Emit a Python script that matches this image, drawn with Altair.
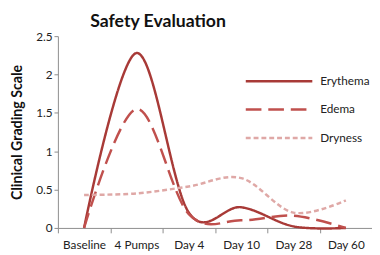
import altair as alt
import pandas as pd

categories = ["Baseline", "4 Pumps", "Day 4", "Day 10", "Day 28", "Day 60"]
erythema = [0.0, 2.28, 0.20, 0.27, 0.02, 0.0]
edema = [0.0, 1.55, 0.18, 0.10, 0.16, 0.0]
dryness = [0.43, 0.45, 0.54, 0.65, 0.20, 0.36]
series_names = ["Erythema", "Edema", "Dryness"]
series_colors = ["#A83A37", "#C0504D", "#DFA8A6"]
series_dashes = [[1, 0], [16, 7], [5, 3]]
y_ticks = [0, 0.5, 1, 1.5, 2, 2.5]

rows = []
for name, vals in zip(series_names, [erythema, edema, dryness]):
    for c, v in zip(categories, vals):
        rows.append({"cat": c, "value": v, "series": name})
df = pd.DataFrame(rows)

FONT = "Lato"

legend_opts = dict(title=None, orient="none", legendX=216, legendY=36,
                   symbolType="M-4,0H4", symbolSize=289,
                   symbolStrokeWidth=2.5, labelFontSize=12,
                   labelColor="#222222", labelFont=FONT,
                   rowPadding=13, labelOffset=32)

chart = alt.Chart(df).mark_line(interpolate="cardinal", strokeWidth=2.5).encode(
    x=alt.X("cat:N", sort=categories, bandPosition=0.5,
            scale=alt.Scale(type="band", paddingInner=0, paddingOuter=0),
            axis=alt.Axis(title=None, labelAngle=0, tickBand="extent", tickSize=5,
                          labelPadding=7, labelFontSize=12, labelColor="#222222",
                          domainColor="#8C8C8C", tickColor="#8C8C8C", labelFont=FONT)),
    y=alt.Y("value:Q", scale=alt.Scale(domain=[0, 2.5], nice=False),
            axis=alt.Axis(title="Clinical Grading Scale", values=y_ticks, format="~g",
                          grid=False, tickSize=4, labelPadding=2, labelFontSize=12,
                          labelColor="#222222", domainColor="#8C8C8C", tickColor="#8C8C8C",
                          titleFontSize=14.5, titleFontWeight="bold", titleColor="#111111",
                          titleAngle=270, titleBaseline="bottom", titleX=-34, titleY=98,
                          labelFont=FONT, titleFont=FONT)),
    color=alt.Color("series:N", sort=series_names,
                    scale=alt.Scale(domain=series_names, range=series_colors),
                    legend=alt.Legend(**legend_opts)),
    strokeDash=alt.StrokeDash("series:N", sort=series_names,
                              scale=alt.Scale(domain=series_names, range=series_dashes),
                              legend=alt.Legend(**legend_opts)),
).properties(
    width=321,
    height=196,
    title=alt.TitleParams("Safety Evaluation", anchor="start", frame="group", dx=33,
                          fontSize=18, fontWeight="bold", font=FONT, color="#111111",
                          offset=-1),
    autosize=alt.AutoSizeParams(type="none"),
    padding={"left": 51, "top": 26, "right": 0, "bottom": 30},
).configure_view(stroke=None)

chart.save("out.html", embed_options={"renderer": "svg", "actions": False})
